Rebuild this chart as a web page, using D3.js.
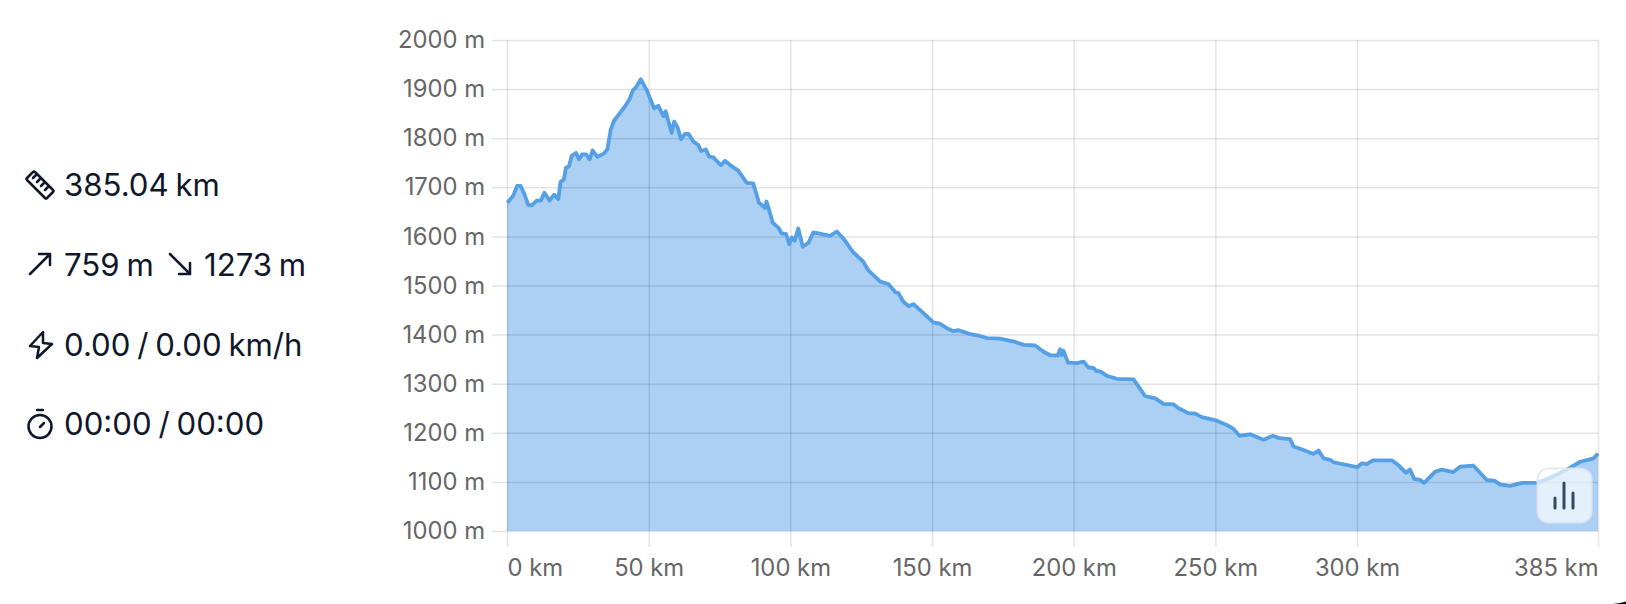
<!DOCTYPE html>
<html>
<head>
    <meta charset="utf-8">
    <script src="https://cdn.jsdelivr.net/npm/d3@7"></script>
    <style>
        html, body { margin: 0; padding: 0; background: #fff; }
        svg { display: block; }
        text { font-family: Inter, "Noto Sans", sans-serif; }
        .stat { font-size: 31.2px; word-spacing: -2px; fill: #0f172a; }
        .icon { fill: none; stroke: #0f172a; stroke-width: 2.5; stroke-linecap: round; stroke-linejoin: round; }
        .tick text { font-size: 23.8px; fill: #666; }
        .tick line { stroke: rgba(0,0,0,0.105); stroke-width: 1.5; }
    </style>
</head>
<body>
<svg id="chart" width="1626" height="604"></svg>
<script>
// route profile
var distanceKm = [0, 0.5, 2.2, 3.6, 4.8, 6, 7.5, 8.7, 10.5, 12, 13.2, 15, 16.6, 18.1, 18.9, 20.1, 20.8, 21.9, 22.8, 24.4, 25.4, 26.5, 27.9, 29.2, 30.2, 31.9, 34, 35.4, 36.6, 37.8, 39.3, 41.4, 43.2, 44.4, 45.8, 47.2, 49.3, 51.9, 53.4, 55.2, 56, 58.1, 59, 60.2, 61.4, 62.8, 64.1, 65.8, 67.5, 68.5, 70.2, 71.3, 72.8, 75.5, 76.9, 79.3, 81.6, 84.6, 86.9, 88.9, 91, 91.6, 93.8, 95.9, 96.9, 98.5, 99.6, 100.5, 101.5, 102.8, 104.4, 106.4, 108.1, 109.9, 114, 116.4, 118.7, 122, 125.8, 127.5, 131.8, 134.6, 137, 138.2, 139.9, 141.7, 143.5, 145.2, 148.2, 150.5, 152.9, 155.2, 157.6, 159.4, 163.5, 166.4, 169.4, 174, 179.4, 182.3, 186.4, 189.4, 191.7, 194.3, 195.2, 195.8, 196.4, 198, 201.1, 203.5, 205.2, 207, 208, 209.4, 211.7, 215.2, 221.1, 222.9, 225.2, 228.8, 231.7, 235.2, 237, 240.5, 242.9, 245.2, 249.9, 254, 256.4, 258.5, 262.3, 267, 270.3, 272.6, 276.4, 277.6, 281.1, 284.6, 286.4, 288.2, 290.5, 291.7, 300, 301.7, 303.4, 305.6, 312.3, 314.6, 317.2, 318.7, 320.2, 322.3, 323.7, 327.6, 329.9, 334, 336.4, 341.1, 345.8, 348.7, 350.3, 354, 358.2, 363.5, 368, 374.6, 378.8, 383.5, 385.04];
var elevationM = [1669, 1671, 1683, 1703, 1703, 1688, 1664, 1663, 1673, 1673, 1689, 1673, 1685, 1676, 1711, 1716, 1740, 1743, 1764, 1770, 1757, 1767, 1767, 1757, 1775, 1762, 1768, 1777, 1817, 1836, 1847, 1863, 1879, 1897, 1906, 1920, 1898, 1861, 1866, 1845, 1855, 1811, 1834, 1822, 1798, 1809, 1809, 1793, 1786, 1774, 1777, 1763, 1761, 1745, 1754, 1743, 1734, 1709, 1708, 1669, 1658, 1671, 1628, 1617, 1606, 1605, 1584, 1598, 1591, 1616, 1579, 1587, 1608, 1606, 1601, 1610, 1596, 1569, 1548, 1531, 1508, 1503, 1487, 1484, 1467, 1458, 1462, 1453, 1437, 1425, 1422, 1413, 1407, 1409, 1401, 1398, 1393, 1392, 1385, 1379, 1378, 1365, 1358, 1357, 1370, 1358, 1367, 1343, 1342, 1345, 1333, 1332, 1326, 1325, 1316, 1310, 1309, 1294, 1275, 1270, 1259, 1258, 1250, 1240, 1239, 1232, 1226, 1216, 1208, 1194, 1197, 1186, 1194, 1189, 1187, 1172, 1165, 1157, 1164, 1148, 1145, 1140, 1130, 1138, 1136, 1144, 1144, 1134, 1119, 1125, 1106, 1104, 1098, 1121, 1125, 1120, 1131, 1133, 1104, 1102, 1095, 1092, 1098, 1098, 1108, 1127, 1141, 1148, 1158];

var xTicks = [0, 50, 100, 150, 200, 250, 300, 385.04];
var yTicks = [1000, 1100, 1200, 1300, 1400, 1500, 1600, 1700, 1800, 1900, 2000];
var stats = ["385.04 km", "759 m", "1273 m", "0.00 / 0.00 km/h", "00:00 / 00:00"];

var svg = d3.select("#chart");
var left = 507, right = 1598, top_ = 40, bottom = 531;

var x = d3.scaleLinear().domain([0, 385.04]).range([left, right]);
var y = d3.scaleLinear().domain([1000, 2000]).range([bottom, top_]);

var points = distanceKm.map(function (d, i) { return [d, elevationM[i]]; });
var area = d3.area().x(function (d) { return x(d[0]); }).y0(bottom).y1(function (d) { return y(d[1]); });
var line = d3.line().x(function (d) { return x(d[0]); }).y(function (d) { return y(d[1]); });

svg.append("path").attr("d", area(points)).attr("fill", "rgba(84,160,232,0.49)");

// grid lines are the axis ticks, pulled through the plot
var yAxis = d3.axisLeft(y).tickValues(yTicks).tickSize(right - left + 15).tickPadding(7)
    .tickFormat(function (d) { return d + " m"; });
svg.append("g").attr("transform", "translate(" + right + ",0)").call(yAxis)
    .call(function (g) { g.select(".domain").remove(); });

var xAxis = d3.axisBottom(x).tickValues(xTicks).tickSize(bottom - top_ + 16).tickPadding(12)
    .tickFormat(function (d) { return Math.round(d) + " km"; });
var xg = svg.append("g").attr("transform", "translate(0," + top_ + ")").call(xAxis)
    .call(function (g) { g.select(".domain").remove(); });
xg.selectAll(".tick text").attr("text-anchor", function (d) {
    return d === 0 ? "start" : d === 385.04 ? "end" : "middle";
});

svg.append("path").attr("d", line(points)).attr("fill", "none").attr("stroke", "#559fe5")
    .attr("stroke-width", 3.8).attr("stroke-linejoin", "round");

// toggle button over the corner of the plot
var btn = svg.append("g").attr("transform", "translate(1537,468)");
btn.append("rect").attr("x", 0.5).attr("y", 0.5).attr("width", 54).attr("height", 54).attr("rx", 11)
    .attr("fill", "rgba(255,255,255,0.68)").attr("stroke", "rgba(226,232,240,0.85)").attr("stroke-width", 2);
[[18, 30, 40], [27, 15, 40], [36, 25, 40]].forEach(function (b) {
    btn.append("line").attr("x1", b[0]).attr("x2", b[0]).attr("y1", b[1]).attr("y2", b[2])
        .attr("stroke", "#334a66").attr("stroke-width", 3).attr("stroke-linecap", "round");
});

// stats on the left
var info = svg.append("g");
function stat(txt, px, py) {
    info.append("text").attr("class", "stat").attr("x", px).attr("y", py).text(txt);
}
stat(stats[0], 64, 196);
stat(stats[1], 64, 276);
stat(stats[2], 204, 276);
stat(stats[3], 64, 356);
stat(stats[4], 64, 435);

function icon(d, tx, ty) {
    info.append("path").attr("class", "icon").attr("d", d).attr("transform", "translate(" + tx + "," + ty + ")");
}
// ruler
icon("M2 8 L8 2 Q9 1 10 2 L28 20 Q29 21 28 22 L22 28 Q21 29 20 28 L2 10 Q1 9 2 8 M8 8 L11 5 M12 12 L15 9 M16 16 L19 13 M20 20 L23 17", 25, 170);
// up and down arrows
icon("M0 20 L20 0 M9 0 L20 0 L20 11", 30, 254);
icon("M0 0 L20 20 M20 9 L20 20 L9 20", 170, 254);
// lightning
icon("M15 1 L2 15 L11 16 L9 27 L24 13 L15 12 Z", 28, 331);
// stopwatch
icon("M9 1 L15 1 M12 6 A11.5 11.5 0 1 0 12 29 A11.5 11.5 0 1 0 12 6 M12 18 L16 14", 28, 409);

// dark sliver in the bottom right corner of the screenshot
svg.append("path").attr("d", "M1613 604 Q1620 603 1626 601.5 L1626 604 Z").attr("fill", "#111");
</script>
</body>
</html>
